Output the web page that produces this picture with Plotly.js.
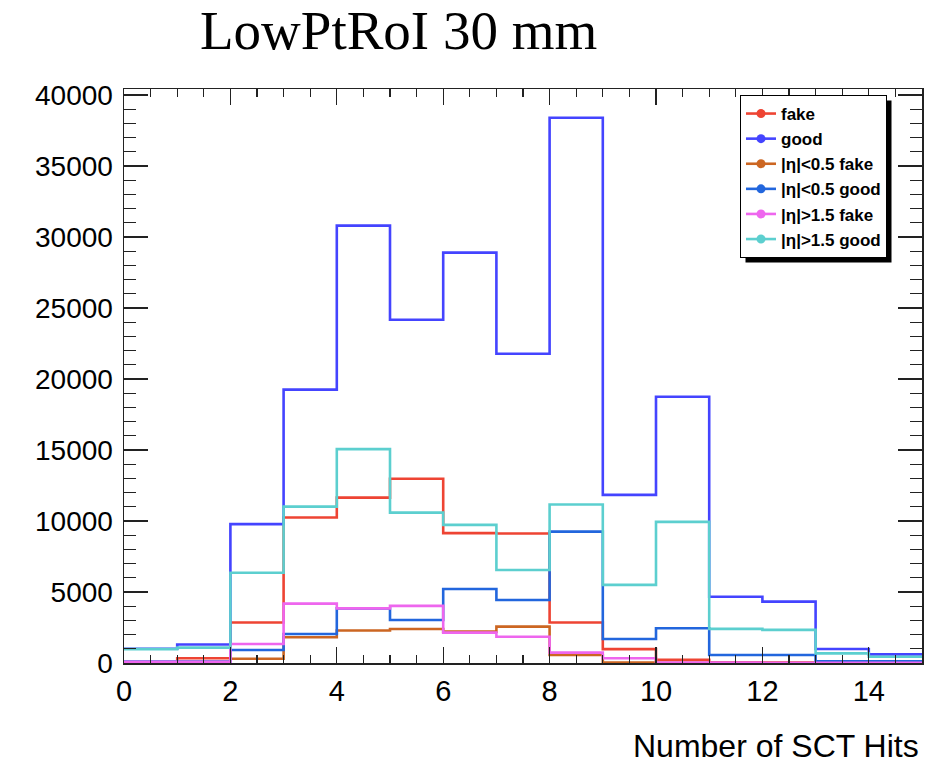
<!DOCTYPE html>
<html>
<head>
<meta charset="utf-8">
<script src="https://cdn.plot.ly/plotly-3.0.1.min.js"></script>
<style>html,body{margin:0;padding:0;background:#fff;}#chart{width:933px;height:764px;}</style>
</head>
<body>
<div id="chart"></div>
<script>
// Bin low edges (bin width 1) and the last upper edge
var binLowEdges = [0,1,2,3,4,5,6,7,8,9,10,11,12,13,14];
var lastUpperEdge = 15;

var seriesNames = ["fake", "good", "|η|<0.5 fake", "|η|<0.5 good", "|η|>1.5 fake", "|η|>1.5 good"];
var fake      = [50, 330, 2850, 10250, 11650, 12980, 9150, 9120, 2850, 980, 230, 50, 30, 20, 10];
var good      = [1000, 1300, 9780, 19250, 30800, 24170, 28900, 21780, 38400, 11840, 18750, 4670, 4320, 990, 610];
var eta05fake = [0, 60, 300, 1810, 2290, 2390, 2210, 2560, 560, 30, 20, 10, 5, 5, 5];
var eta05good = [100, 100, 920, 2040, 3850, 3030, 5210, 4440, 9250, 1690, 2450, 560, 560, 120, 120];
var eta15fake = [80, 80, 1340, 4180, 3850, 4020, 2140, 1850, 730, 330, 40, 30, 20, 10, 10];
var eta15good = [980, 1080, 6360, 11010, 15060, 10590, 9730, 6550, 11160, 5500, 9940, 2400, 2330, 680, 440];

var seriesColors = ["#ee4433", "#4444ff", "#cc6622", "#2266dd", "#ee66ee", "#5ccfcf"];
var allSeries = [fake, good, eta05fake, eta05good, eta15fake, eta15good];

var edges = binLowEdges.concat([lastUpperEdge]);
var traces = [];
allSeries.forEach(function(vals, i){
  traces.push({
    type: "scatter", mode: "lines",
    x: edges, y: vals.concat([vals[vals.length-1]]),
    line: {shape: "hv", color: seriesColors[i], width: 2.6},
    showlegend: false, hoverinfo: "skip"
  });
});
// legend entries (line + marker symbol like ROOT)
allSeries.forEach(function(vals, i){
  traces.push({
    type: "scatter", mode: "lines+markers",
    x: [null], y: [null], name: seriesNames[i],
    line: {color: seriesColors[i], width: 2.6},
    marker: {color: seriesColors[i], size: 9, symbol: "circle"},
    showlegend: true
  });
});

var W = 933, H = 764, L = 124, R = 11, T = 89, B = 101;
var pw = W - L - R, ph = H - T - B;
function px2x(px){ return (px - L) / pw; }
function py2y(py){ return (H - B - py) / ph; }

var frameColor = "#222";
var layout = {
  width: W, height: H,
  margin: {l: L, r: R, t: T, b: B, pad: 0},
  paper_bgcolor: "#fff", plot_bgcolor: "#fff",
  showlegend: true,
  title: {text: "LowPtRoI 30 mm", font: {family: "Liberation Serif", size: 55, color: "#000"},
          x: 200 / W, xanchor: "left", xref: "container", y: 1 - 30 / H, yanchor: "middle", yref: "container"},
  xaxis: {
    range: [0, 15], dtick: 2, tick0: 0,
    showgrid: false, zeroline: false,
    showline: true, linecolor: frameColor, linewidth: 1.5, mirror: "allticks",
    ticks: "inside", ticklen: 16, tickwidth: 1.3, tickcolor: frameColor,
    minor: {dtick: 0.5, ticks: "inside", ticklen: 8, tickwidth: 1.3, tickcolor: frameColor, showgrid: false},
    tickfont: {family: "Liberation Sans", size: 29, color: "#000"},
    ticklabelstandoff: 2
  },
  yaxis: {
    range: [0, 40425], dtick: 5000, tick0: 0, tickformat: "d",
    showgrid: false, zeroline: false,
    showline: true, linecolor: frameColor, linewidth: 1.5, mirror: "allticks",
    ticks: "inside", ticklen: 24, tickwidth: 1.3, tickcolor: frameColor,
    minor: {dtick: 1000, ticks: "inside", ticklen: 12, tickwidth: 1.3, tickcolor: frameColor, showgrid: false},
    tickfont: {family: "Liberation Sans", size: 28, color: "#000"},
    ticklabelstandoff: 4
  },
  legend: {
    x: px2x(740), y: py2y(95), xanchor: "left", yanchor: "top",
    xref: "paper", yref: "paper",
    bgcolor: "#fff", bordercolor: "#000", borderwidth: 1,
    font: {family: "Liberation Sans", size: 17, color: "#000", weight: "bold"},
    tracegroupgap: 0, itemwidth: 30
  },
  annotations: [{
    text: "Number of SCT Hits", showarrow: false,
    xref: "paper", yref: "paper", x: px2x(921), y: py2y(746),
    xanchor: "right", yanchor: "middle",
    font: {family: "Liberation Sans", size: 32, color: "#000"}
  }]
};

var gd = document.getElementById("chart");
Plotly.newPlot(gd, traces, layout, {displayModeBar: false, staticPlot: true}).then(function(){
  // ROOT-style legend shadow, placed from the rendered legend box
  var bg = gd.querySelector(".legend .bg");
  if (!bg) return;
  var r = bg.getBoundingClientRect(), c = gd.getBoundingClientRect();
  var x0 = r.left - c.left, y0 = r.top - c.top, x1 = r.right - c.left, y1 = r.bottom - c.top;
  var off = 5;
  return Plotly.relayout(gd, {shapes: [{
    type: "rect", xref: "paper", yref: "paper", layer: "above",
    x0: px2x(x0 + off), x1: px2x(x1 + off), y0: py2y(y1 + off), y1: py2y(y0 + off),
    fillcolor: "#000", line: {width: 0}
  }]});
});
</script>
</body>
</html>
